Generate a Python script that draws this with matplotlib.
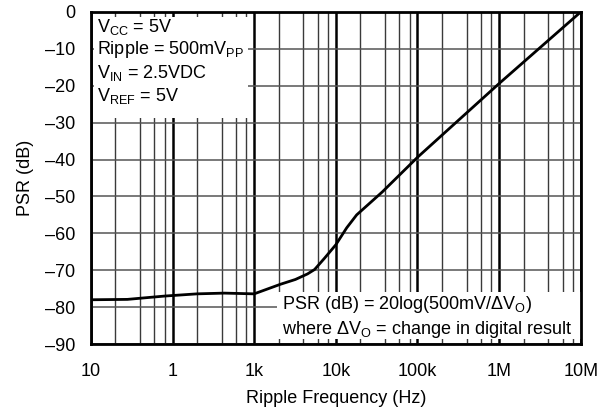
import matplotlib
matplotlib.use("Agg")
import matplotlib.pyplot as plt
from matplotlib.ticker import FixedLocator, NullFormatter, LogLocator
from matplotlib.patches import Rectangle

plt.rcParams['font.family'] = ['Liberation Sans', 'DejaVu Sans']
plt.rcParams['mathtext.fontset'] = 'custom'
plt.rcParams['mathtext.rm'] = 'Liberation Sans'
plt.rcParams['mathtext.it'] = 'Liberation Sans:italic'
plt.rcParams['mathtext.bf'] = 'Liberation Sans:bold'

# Data
freq_hz = [10, 28, 80, 200, 430, 1000, 2100, 3200, 4500, 5500, 7300, 10000, 13600,
           18000, 37000, 100000, 1000000, 10000000]
psr_db = [-78.0, -77.9, -77.0, -76.4, -76.2, -76.4, -73.8, -72.5, -71.0, -69.8, -66.7,
          -63.1, -58.5, -55.0, -48.8, -39.4, -19.4, 0.0]

xtick_vals = [10, 100, 1000, 10000, 100000, 1000000, 10000000]
xtick_labels = ['10', '1', '1k', '10k', '100k', '1M', '10M']
ytick_vals = [0, -10, -20, -30, -40, -50, -60, -70, -80, -90]
ytick_labels = ['0', '\u201310', '\u201320', '\u201330', '\u201340', '\u201350',
                '\u201360', '\u201370', '\u201380', '\u201390']

FS = 13

fig = plt.figure(figsize=(6.10, 4.13), dpi=100)
ax = fig.add_axes([0.149, 0.167, 0.803, 0.804])

ax.set_xscale('log')
ax.set_xlim(10, 1e7)
ax.set_ylim(-90, 0)

ax.xaxis.set_major_locator(FixedLocator(xtick_vals))
ax.set_xticklabels(xtick_labels)
ax.xaxis.set_minor_locator(LogLocator(base=10, subs=[2, 4, 6, 8], numticks=20))
ax.xaxis.set_minor_formatter(NullFormatter())
ax.set_yticks(ytick_vals)
ax.set_yticklabels(ytick_labels)

ax.grid(True, which='major', axis='x', color='black', linewidth=1.8, zorder=1)
ax.grid(True, which='minor', axis='x', color='#3a3a3a', linewidth=1.0, zorder=1)
ax.grid(True, which='major', axis='y', color='#555555', linewidth=1.1, zorder=1)
ax.set_axisbelow(True)

ax.tick_params(axis='both', which='both', length=0, labelsize=FS)
ax.tick_params(axis='x', pad=14)
ax.tick_params(axis='y', pad=11)

for s in ax.spines.values():
    s.set_linewidth(2.0)
    s.set_color('black')
    s.set_zorder(5)

ax.plot(freq_hz, psr_db, color='black', linewidth=2.0, zorder=3)

# Condition box, top left
ax.add_patch(Rectangle((0.006, 0.68), 0.314, 0.305, transform=ax.transAxes,
                       facecolor='white', edgecolor='none', zorder=2))
cond_lines = [r'V$_\mathrm{CC}$ = 5V',
              r'Ripple = 500mV$_\mathrm{PP}$',
              r'V$_\mathrm{IN}$ = 2.5VDC',
              r'V$_\mathrm{REF}$ = 5V']
for i, t in enumerate(cond_lines):
    ax.text(0.012, 0.955 - i * 0.069, t, transform=ax.transAxes, fontsize=FS,
            va='center', ha='left', zorder=4)

# Formula box, bottom right
ax.add_patch(Rectangle((0.38, 0.016), 0.62, 0.141, transform=ax.transAxes,
                       facecolor='white', edgecolor='none', zorder=2))
ax.text(0.39, 0.12, r'PSR (dB) = 20log(500mV/ΔV$_\mathrm{O}$)', transform=ax.transAxes,
        fontsize=FS, va='center', ha='left', zorder=4)
ax.text(0.39, 0.045, r'where ΔV$_\mathrm{O}$ = change in digital result', transform=ax.transAxes,
        fontsize=FS, va='center', ha='left', zorder=4)

ax.set_xlabel('Ripple Frequency (Hz)', fontsize=FS, labelpad=7)
ax.set_ylabel('PSR (dB)', fontsize=FS, labelpad=8)

fig.savefig('out.png', dpi=100)
